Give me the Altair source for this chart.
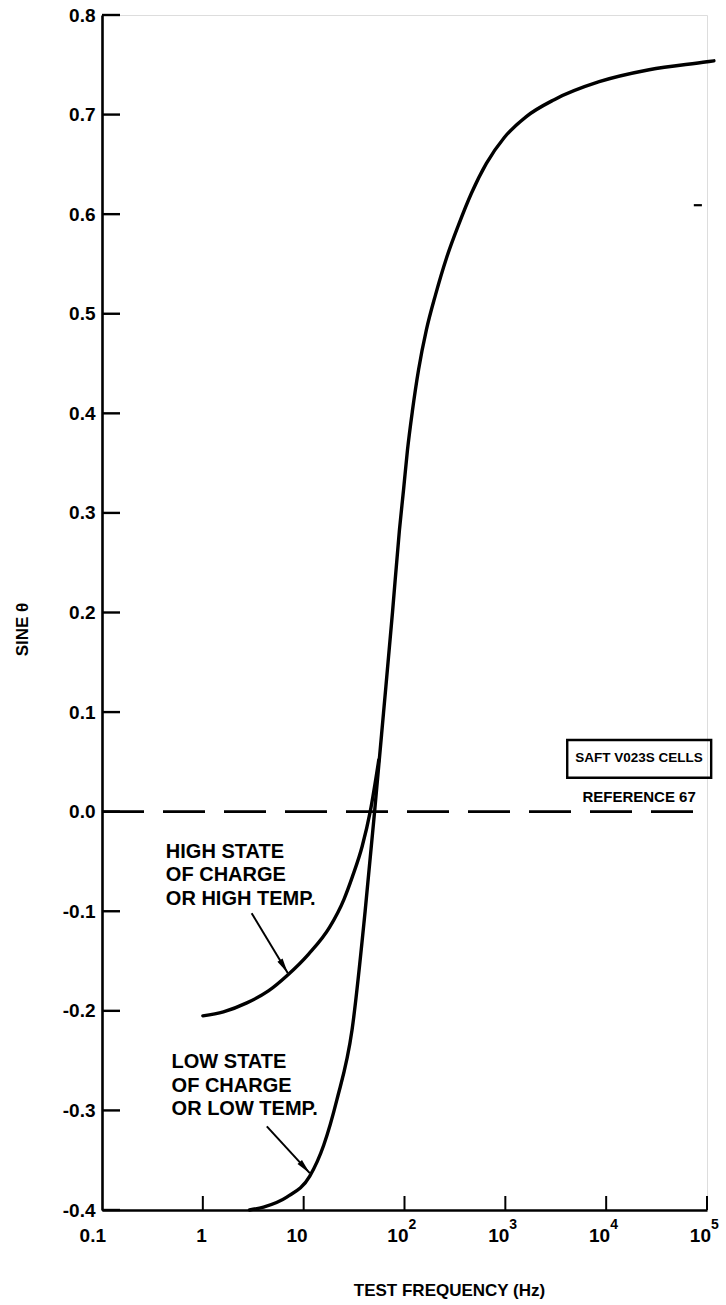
import altair as alt
import pandas as pd

FONT = "Liberation Sans"

# Sine of phase angle vs. test frequency, SAFT V023S cells
low_freq = [2.9, 4.0, 6.8, 11.5, 15.8, 21.4, 30.2, 40.7, 50.5, 61.9, 76.0, 89.1,
            97.8, 107, 120, 138, 165, 203, 261, 343, 461, 649, 977, 1614, 3055,
            8531, 26670, 100000, 117000]
low_sine = [-0.400, -0.397, -0.387, -0.366, -0.335, -0.289, -0.219, -0.100, 0.000,
            0.099, 0.200, 0.283, 0.323, 0.363, 0.403, 0.444, 0.484, 0.519, 0.556,
            0.589, 0.621, 0.651, 0.677, 0.698, 0.715, 0.733, 0.745, 0.753, 0.754]

high_freq = [1.0, 1.6, 2.73, 4.47, 6.95, 11.2, 18.1, 25.1, 30.5, 38.0, 45.7, 55.6]
high_sine = [-0.205, -0.201, -0.192, -0.180, -0.164, -0.143, -0.116, -0.088,
             -0.065, -0.035, 0.000, 0.052]

y_ticks = [-0.4, -0.3, -0.2, -0.1, 0.0, 0.1, 0.2, 0.3, 0.4, 0.5, 0.6, 0.7, 0.8]
x_ticks = [0.1, 1, 10, 100, 1000, 10000, 100000]
x_tick_base = ["0.1", "1", "10", "10", "10", "10", "10"]
x_tick_exp = ["", "", "", "2", "3", "4", "5"]

# annotation labels (anchored at their first line) and their leader arrows
note_text = ["HIGH STATE\nOF CHARGE\nOR HIGH TEMP.", "LOW STATE\nOF CHARGE\nOR LOW TEMP."]
note_freq = [0.43, 0.49]
note_sine = [-0.0404, -0.2517]
arrow_from_freq = [3.05, 4.31]
arrow_from_sine = [-0.102, -0.316]
arrow_to_freq = [6.95, 11.5]
arrow_to_sine = [-0.162, -0.363]
arrow_angle = [149, 138]

# legend box
box_freq = [4110, 110000]
box_sine = [0.072, 0.034]
box_title = "SAFT V023S CELLS"
box_title_pos = (21200, 0.054)
box_ref = "REFERENCE 67"
box_ref_pos = (21200, 0.015)

# stray pen mark near the right edge
stray_freq = [74000, 89000]
stray_sine = 0.609

W, H = 605, 1195

xs = alt.Scale(type="log", domain=[0.1, 100000], nice=False)
ys = alt.Scale(domain=[-0.4, 0.8], nice=False, zero=False)

curves = pd.DataFrame({
    "freq": low_freq + high_freq,
    "sine": low_sine + high_sine,
    "series": ["low"] * len(low_freq) + ["high"] * len(high_freq),
})

x_axis = alt.Axis(
    title="TEST FREQUENCY (Hz)", labels=False, ticks=False, grid=False,
    domainColor="black", domainWidth=2.6,
    titleFont=FONT, titleFontSize=17, titleFontWeight="bold", titleColor="black",
    titleX=347, titleY=80, titleAlign="center", titleBaseline="middle",
)
y_axis = alt.Axis(
    title="SINE θ", values=y_ticks, ticks=False, tickSize=0, grid=False,
    labelExpr="replace(format(datum.value, '.1f'), '−', '-')",
    labelFont=FONT, labelFontSize=19, labelFontWeight="bold", labelColor="black",
    labelPadding=7, domainColor="black", domainWidth=2.6,
    titleFont=FONT, titleFontSize=17, titleFontWeight="bold", titleColor="black",
    titleX=-80, titleY=614, titleAngle=270, titleAlign="center",
    titleBaseline="middle",
)

curve_layer = alt.Chart(curves).mark_line(
    color="black", strokeWidth=3.4, interpolate="monotone", strokeCap="round",
    clip=False,
).encode(
    x=alt.X("freq:Q", scale=xs, axis=x_axis),
    y=alt.Y("sine:Q", scale=ys, axis=y_axis),
    detail="series:N",
)

zero_line = alt.Chart(pd.DataFrame({"f0": [0.1], "f1": [100000], "s": [0.0]})).mark_rule(
    color="black", strokeWidth=2.6, strokeDash=[42, 19]
).encode(x=alt.X("f0:Q", scale=xs), x2="f1:Q", y=alt.Y("s:Q", scale=ys))

y_tick_marks = alt.Chart(pd.DataFrame({"v": y_ticks})).mark_rule(
    color="black", strokeWidth=2.4
).encode(y=alt.Y("v:Q", scale=ys), x=alt.value(0), x2=alt.value(18))

x_tick_marks = alt.Chart(pd.DataFrame({"v": x_ticks[1:]})).mark_rule(
    color="black", strokeWidth=2.0
).encode(x=alt.X("v:Q", scale=xs), y=alt.value(H), y2=alt.value(H - 14))

xlab = pd.DataFrame({"v": x_ticks, "base": x_tick_base, "exp": x_tick_exp})
x_base_text = alt.Chart(xlab).mark_text(
    font=FONT, fontSize=19, fontWeight="bold", color="black", align="right",
    baseline="middle", dx=4
).encode(x=alt.X("v:Q", scale=xs), y=alt.value(H + 26), text="base:N")
x_exp_text = alt.Chart(xlab).mark_text(
    font=FONT, fontSize=14, fontWeight="bold", color="black", align="left",
    baseline="middle", dx=4
).encode(x=alt.X("v:Q", scale=xs), y=alt.value(H + 15), text="exp:N")

notes = pd.DataFrame({"t": note_text, "f": note_freq, "s": note_sine})
note_layer = alt.Chart(notes).mark_text(
    font=FONT, fontSize=20, fontWeight="bold", color="black", align="left",
    baseline="middle", lineBreak="\n", lineHeight=23.5
).encode(x=alt.X("f:Q", scale=xs), y=alt.Y("s:Q", scale=ys), text="t:N")

arrows = pd.DataFrame({
    "f0": arrow_from_freq, "s0": arrow_from_sine,
    "f1": arrow_to_freq, "s1": arrow_to_sine, "ang": arrow_angle,
})
arrow_lines = alt.Chart(arrows).mark_rule(color="black", strokeWidth=2.0).encode(
    x=alt.X("f0:Q", scale=xs), y=alt.Y("s0:Q", scale=ys), x2="f1:Q", y2="s1:Q"
)
arrow_heads = alt.Chart(arrows).mark_point(
    shape="M0,0L0.2,1L-0.2,1Z", filled=True, color="black", opacity=1, size=900
).encode(
    x=alt.X("f1:Q", scale=xs), y=alt.Y("s1:Q", scale=ys),
    angle=alt.Angle("ang:Q", scale=None),
)

box = alt.Chart(pd.DataFrame({
    "f0": [box_freq[0]], "f1": [box_freq[1]], "s0": [box_sine[0]], "s1": [box_sine[1]]
})).mark_rect(fillOpacity=0, stroke="black", strokeWidth=2.4, clip=False).encode(
    x=alt.X("f0:Q", scale=xs), x2="f1:Q", y=alt.Y("s0:Q", scale=ys), y2="s1:Q"
)
box_text = alt.Chart(pd.DataFrame({
    "t": [box_title, box_ref],
    "f": [box_title_pos[0], box_ref_pos[0]],
    "s": [box_title_pos[1], box_ref_pos[1]],
    "size": [13.5, 15],
})).mark_text(
    font=FONT, fontWeight="bold", color="black", align="center", baseline="middle"
).encode(
    x=alt.X("f:Q", scale=xs), y=alt.Y("s:Q", scale=ys), text="t:N",
    size=alt.Size("size:Q", scale=None),
)

stray = alt.Chart(pd.DataFrame({
    "f0": [stray_freq[0]], "f1": [stray_freq[1]], "s": [stray_sine]
})).mark_rule(color="black", strokeWidth=2.2).encode(
    x=alt.X("f0:Q", scale=xs), x2="f1:Q", y=alt.Y("s:Q", scale=ys)
)

chart = alt.layer(
    zero_line, curve_layer, y_tick_marks, x_tick_marks, x_base_text, x_exp_text,
    note_layer, arrow_lines, arrow_heads, box, box_text, stray,
).properties(
    width=W, height=H,
    autosize=alt.AutoSizeParams(type="none"),
    padding={"left": 102, "top": 15, "right": 19, "bottom": 95},
).configure_view(stroke=None).configure(background="white")

chart.save("out.html", embed_options={"renderer": "svg", "actions": False})
